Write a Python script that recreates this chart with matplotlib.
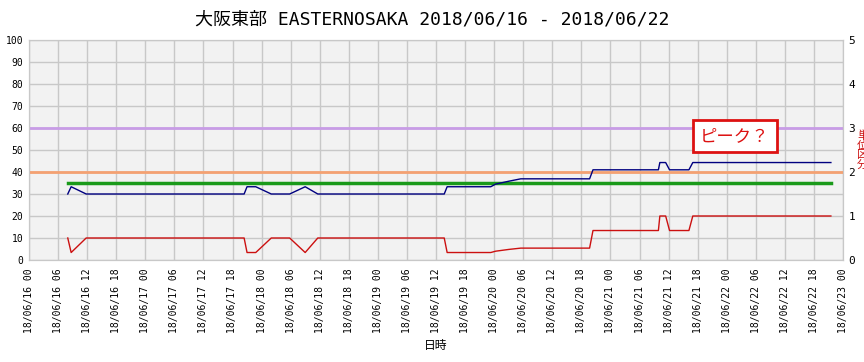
import numpy as np
import pandas as pd
import matplotlib
matplotlib.use("Agg")
import matplotlib.pyplot as plt
import matplotlib.dates as mdates

plt.rcParams['font.family'] = ['DejaVu Sans Mono', 'Noto Sans CJK JP']

title = "大阪東部 EASTERNOSAKA 2018/06/16 - 2018/06/22"
start = pd.Timestamp("2018-06-16 00:00")
end = pd.Timestamp("2018-06-23 00:00")

# hours after 2018/06/16 00:00 where the lines bend
hours = [8.0, 8.7, 11.8, 44.4, 45.0, 46.8, 50.0, 53.8, 57.0, 59.6, 85.7, 86.3,
         95.3, 96.3, 99.0, 101.5, 115.7, 116.4, 129.9, 130.2, 131.4, 132.2,
         136.2, 137.0, 165.5]
# left axis series (blue)
blue_vals = [30, 33.3, 30, 30, 33.3, 33.3, 30, 30, 33.3, 30, 30, 33.3,
             33.3, 34.5, 35.8, 36.9, 36.9, 41, 41, 44.3, 44.3, 41,
             41, 44.3, 44.3]
# right axis series (red)
red_vals = [0.5, 0.17, 0.5, 0.5, 0.17, 0.17, 0.5, 0.5, 0.17, 0.5, 0.5, 0.17,
            0.17, 0.2, 0.24, 0.27, 0.27, 0.67, 0.67, 1.0, 1.0, 0.67,
            0.67, 1.0, 1.0]
mean_val = 35       # green
level_purple = 60
level_orange = 40

t = start + pd.to_timedelta(hours, unit="h")

fig = plt.figure(figsize=(8.64, 3.62), dpi=100)
ax = fig.add_axes([29/864, 102/362, 814/864, 220/362])
ax2 = ax.twinx()

ax.set_facecolor("#f2f2f2")
ax.axhline(level_purple, color="#c89ce6", lw=2, zorder=3)
ax.axhline(level_orange, color="#f4a172", lw=2, zorder=3)
ax.plot([t[0], t[-1]], [mean_val, mean_val], color="#1a9a1a", lw=2.5, zorder=4)
ax.plot(t, blue_vals, color="#000080", lw=1, zorder=5)
ax2.plot(t, red_vals, color="#cc1010", lw=1, zorder=5)

ax.set_xlim(start, end)
ax.set_ylim(0, 100)
ax2.set_ylim(0, 5)
ax.set_yticks(np.arange(0, 101, 10))
ax2.set_yticks(np.arange(0, 6, 1))

ax.xaxis.set_major_locator(mdates.HourLocator(byhour=range(0, 24, 6)))
ax.xaxis.set_major_formatter(mdates.DateFormatter("%y/%m/%d %H"))
plt.setp(ax.get_xticklabels(), rotation=90)

ax.grid(True, color="#c8c8c8", lw=1)
ax.set_axisbelow(True)
for a in (ax, ax2):
    for s in a.spines.values():
        s.set_color("#c8c8c8")
ax.tick_params(axis="both", length=0, labelsize=7, pad=4)
ax.tick_params(axis="x", pad=6)
ax2.tick_params(axis="y", length=0, labelsize=8, pad=4)

ax.set_xlabel("日時", family=["Noto Sans CJK JP"], fontsize=8.5, labelpad=4)
fig.text(0.5, 1 - 20/362, title, ha="center", va="center", fontsize=13)

ax.text(start + pd.Timedelta(hours=145.7), 56.4, "ピーク？",
        family=["Noto Sans CJK JP"], color="#dd1111", fontsize=12.5,
        ha="center", va="center", zorder=10,
        bbox=dict(boxstyle="square,pad=0.4", fc="white", ec="#dd1111", lw=2))

# vertical red label cut off at the right edge
fig.text(857/864, 1 - 150/362, "単\n位\n区\n分", color="#cc1010", fontsize=8,
         family=["Noto Sans CJK JP"], ha="left", va="center", linespacing=0.95)

fig.savefig("out.png", dpi=100)
